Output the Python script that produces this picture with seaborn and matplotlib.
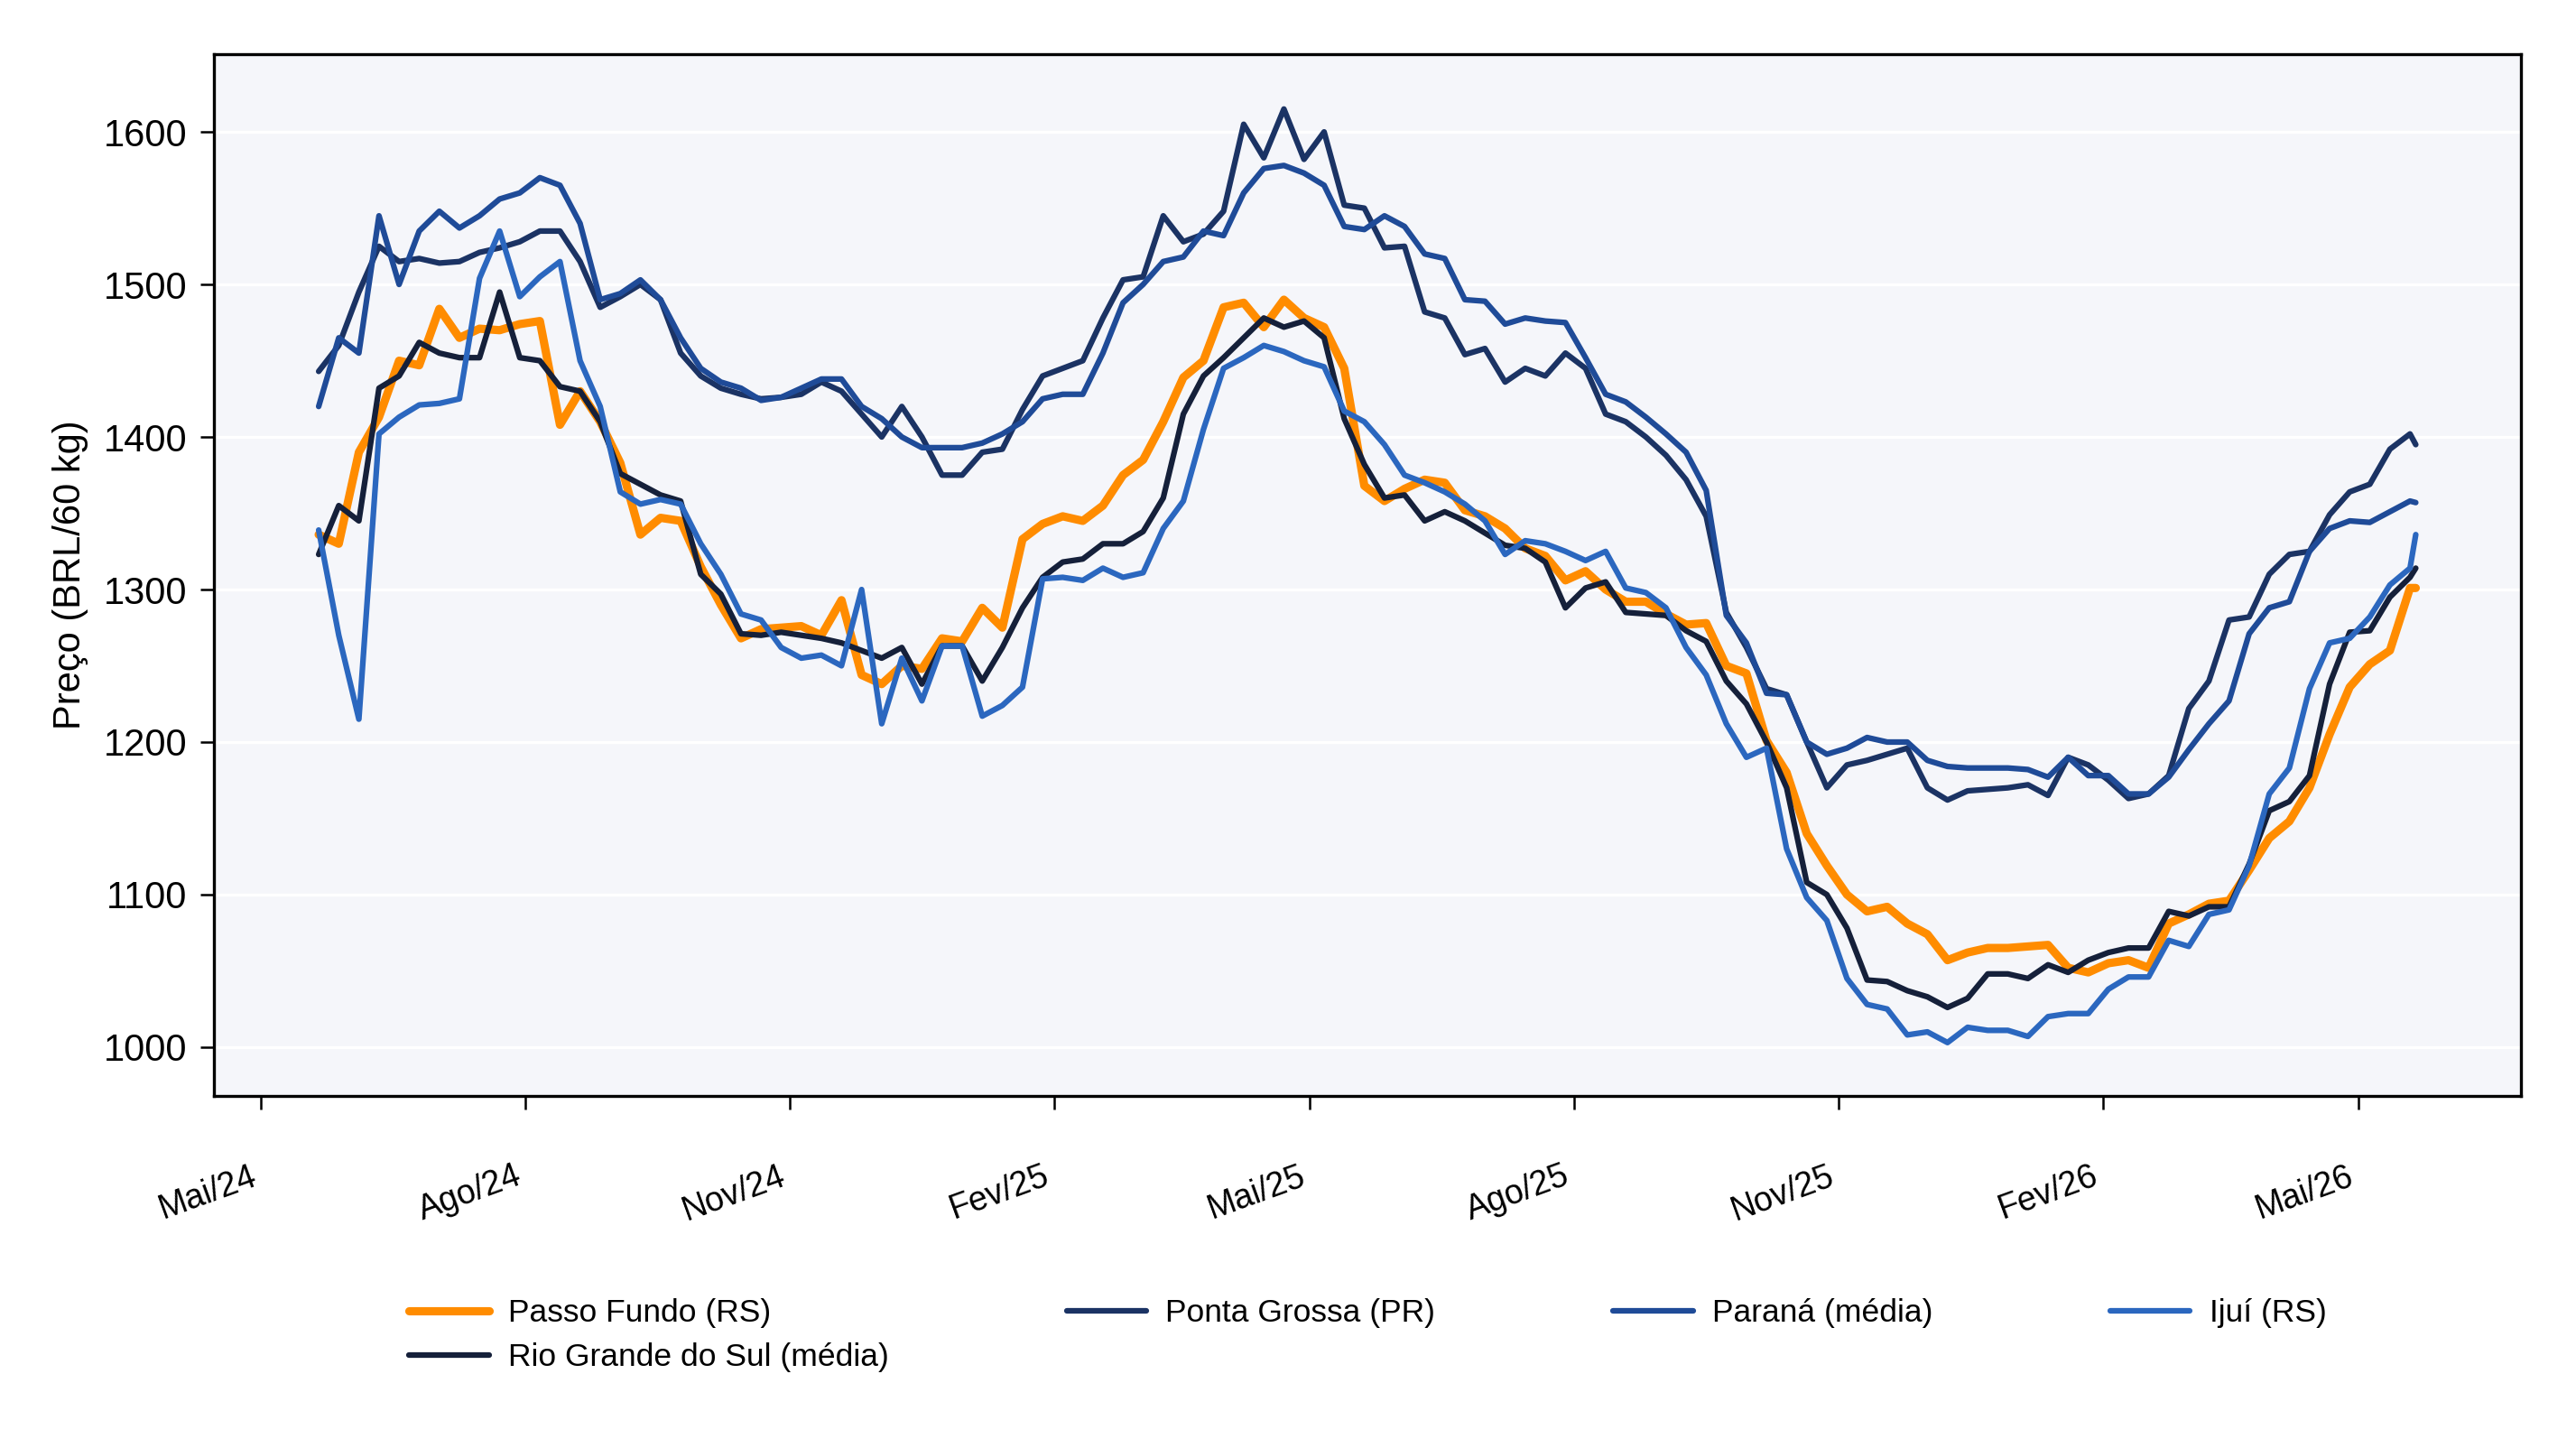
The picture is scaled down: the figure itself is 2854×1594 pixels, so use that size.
import pandas as pd
import matplotlib
matplotlib.use("Agg")
import matplotlib.pyplot as plt
import matplotlib.dates as mdates
from matplotlib.ticker import FuncFormatter, MultipleLocator
import seaborn as sns

# Weekly readings starting 21/05/2024, plus the last quote of 21/05/2026 (BRL / 60 kg)
dates = list(pd.date_range("2024-05-21", periods=105, freq="7D")) + [pd.Timestamp("2026-05-21")]

passo_fundo = [
    1336, 1330, 1390, 1413, 1450, 1447, 1484, 1465, 1471, 1470,
    1474, 1476, 1408, 1430, 1410, 1383, 1336, 1347, 1345, 1315,
    1290, 1268, 1274, 1275, 1276, 1270, 1293, 1244, 1238, 1250,
    1248, 1268, 1266, 1288, 1275, 1333, 1343, 1348, 1345, 1355,
    1375, 1385, 1410, 1439, 1450, 1485, 1488, 1472, 1490, 1478,
    1472, 1445, 1368, 1358, 1366, 1372, 1370, 1352, 1348, 1340,
    1327, 1322, 1306, 1312, 1300, 1292, 1292, 1284, 1277, 1278,
    1250, 1245, 1201, 1180, 1140, 1119, 1100, 1089, 1092, 1081,
    1074, 1057, 1062, 1065, 1065, 1066, 1067, 1052, 1049, 1055,
    1057, 1052, 1081, 1087, 1094, 1096, 1116, 1137, 1148, 1170,
    1205, 1236, 1251, 1260, 1301, 1301,
]

rs_media = [
    1323, 1355, 1345, 1432, 1440, 1462, 1455, 1452, 1452, 1495,
    1452, 1450, 1433, 1430, 1410, 1376, 1369, 1362, 1358, 1310,
    1297, 1271, 1270, 1272, 1270, 1268, 1265, 1260, 1255, 1262,
    1238, 1263, 1263, 1240, 1262, 1288, 1308, 1318, 1320, 1330,
    1330, 1338, 1360, 1415, 1440, 1452, 1465, 1478, 1472, 1476,
    1465, 1412, 1382, 1360, 1362, 1345, 1351, 1345, 1337, 1329,
    1327, 1318, 1288, 1301, 1305, 1285, 1284, 1283, 1273, 1266,
    1240, 1225, 1200, 1170, 1108, 1100, 1078, 1044, 1043, 1037,
    1033, 1026, 1032, 1048, 1048, 1045, 1054, 1049, 1057, 1062,
    1065, 1065, 1089, 1086, 1092, 1092, 1120, 1155, 1161, 1178,
    1238, 1272, 1273, 1295, 1308, 1314,
]

ponta_grossa = [
    1443, 1460, 1495, 1525, 1515, 1517, 1514, 1515, 1521, 1524,
    1528, 1535, 1535, 1515, 1485, 1492, 1500, 1490, 1455, 1440,
    1432, 1428, 1425, 1426, 1428, 1436, 1430, 1415, 1400, 1420,
    1400, 1375, 1375, 1390, 1392, 1418, 1440, 1445, 1450, 1478,
    1503, 1505, 1545, 1528, 1533, 1548, 1605, 1583, 1615, 1582,
    1600, 1552, 1550, 1524, 1525, 1482, 1478, 1454, 1458, 1436,
    1445, 1440, 1455, 1445, 1415, 1410, 1400, 1388, 1372, 1348,
    1285, 1262, 1235, 1231, 1200, 1170, 1185, 1188, 1192, 1196,
    1170, 1162, 1168, 1169, 1170, 1172, 1165, 1190, 1185, 1175,
    1163, 1166, 1178, 1222, 1240, 1280, 1282, 1310, 1323, 1325,
    1349, 1364, 1369, 1392, 1402, 1395,
]

parana_media = [
    1420, 1465, 1455, 1545, 1500, 1535, 1548, 1537, 1545, 1556,
    1560, 1570, 1565, 1540, 1490, 1494, 1503, 1490, 1465, 1445,
    1436, 1432, 1424, 1426, 1432, 1438, 1438, 1420, 1412, 1400,
    1393, 1393, 1393, 1396, 1402, 1410, 1425, 1428, 1428, 1455,
    1488, 1500, 1515, 1518, 1535, 1532, 1560, 1576, 1578, 1573,
    1565, 1538, 1536, 1545, 1538, 1520, 1517, 1490, 1489, 1474,
    1478, 1476, 1475, 1452, 1428, 1423, 1413, 1402, 1390, 1365,
    1283, 1265, 1232, 1231, 1200, 1192, 1196, 1203, 1200, 1200,
    1188, 1184, 1183, 1183, 1183, 1182, 1177, 1190, 1178, 1178,
    1166, 1166, 1177, 1195, 1212, 1227, 1271, 1288, 1292, 1325,
    1340, 1345, 1344, 1351, 1358, 1357,
]

ijui = [
    1339, 1270, 1215, 1402, 1413, 1421, 1422, 1425, 1504, 1535,
    1492, 1505, 1515, 1450, 1420, 1364, 1356, 1359, 1356, 1330,
    1310, 1284, 1280, 1262, 1255, 1257, 1250, 1300, 1212, 1255,
    1227, 1263, 1263, 1217, 1224, 1236, 1307, 1308, 1306, 1314,
    1308, 1311, 1340, 1358, 1405, 1445, 1452, 1460, 1456, 1450,
    1446, 1417, 1410, 1395, 1375, 1370, 1364, 1356, 1345, 1323,
    1332, 1330, 1325, 1319, 1325, 1301, 1298, 1288, 1262, 1244,
    1212, 1190, 1196, 1130, 1098, 1083, 1045, 1028, 1025, 1008,
    1010, 1003, 1013, 1011, 1011, 1007, 1020, 1022, 1022, 1038,
    1046, 1046, 1070, 1066, 1087, 1090, 1119, 1166, 1183, 1235,
    1265, 1268, 1282, 1303, 1314, 1336,
]

series = [passo_fundo, rs_media, ponta_grossa, parana_media, ijui]
names = ["Passo Fundo (RS)", "Rio Grande do Sul (média)", "Ponta Grossa (PR)",
         "Paraná (média)", "Ijuí (RS)"]
colors = ["#ff8c00", "#15203a", "#1b3364", "#1f4b98", "#2b67bf"]
widths = [2.2, 1.5, 1.5, 1.5, 1.5]

meses = ["Jan", "Fev", "Mar", "Abr", "Mai", "Jun", "Jul", "Ago", "Set", "Out", "Nov", "Dez"]

sns.set_theme(style="darkgrid", rc={
    "axes.facecolor": "#f5f6fa",
    "axes.edgecolor": "black",
    "axes.linewidth": 0.8,
    "grid.color": "white",
    "grid.linewidth": 0.8,
    "xtick.bottom": True,
    "ytick.left": True,
    "xtick.color": "black",
    "ytick.color": "black",
    "xtick.major.size": 3.5,
    "ytick.major.size": 3.5,
    "xtick.major.width": 0.6,
    "ytick.major.width": 0.6,
    "text.color": "black",
    "axes.labelcolor": "black",
})
plt.rcParams["font.family"] = ["Liberation Sans", "DejaVu Sans"]

fig, ax = plt.subplots(figsize=(2854 / 300, 1594 / 300), dpi=300)
fig.subplots_adjust(left=0.083, right=0.9785, bottom=0.2384, top=0.9624)

for serie, nome, cor, lw in zip(series, names, colors, widths):
    sns.lineplot(x=dates, y=serie, ax=ax, color=cor, linewidth=lw, label=nome)

ax.set_ylim(968, 1651)
ax.yaxis.set_major_locator(MultipleLocator(100))
ax.xaxis.grid(False)
ax.set_ylabel("Preço (BRL/60 kg)", fontsize=10)
ax.set_xlabel("")

ax.xaxis.set_major_locator(mdates.MonthLocator(bymonth=[2, 5, 8, 11]))
ax.xaxis.set_major_formatter(FuncFormatter(
    lambda v, pos: f"{meses[mdates.num2date(v).month - 1]}/{mdates.num2date(v):%y}"))
ax.tick_params(axis="x", labelsize=9, pad=13.5, labelrotation=20)
ax.tick_params(axis="y", labelsize=10)
for lbl in ax.get_xticklabels():
    lbl.set_ha("right")

handles, labels = ax.get_legend_handles_labels()
ax.get_legend().remove()
fig.legend(handles, labels, loc="center", bbox_to_anchor=(0.531, 0.072), ncol=4,
           frameon=False, fontsize=8.5, handlelength=2.5, handletextpad=0.6,
           columnspacing=5.55, labelspacing=0.45)

fig.savefig("out.png", dpi=300)
